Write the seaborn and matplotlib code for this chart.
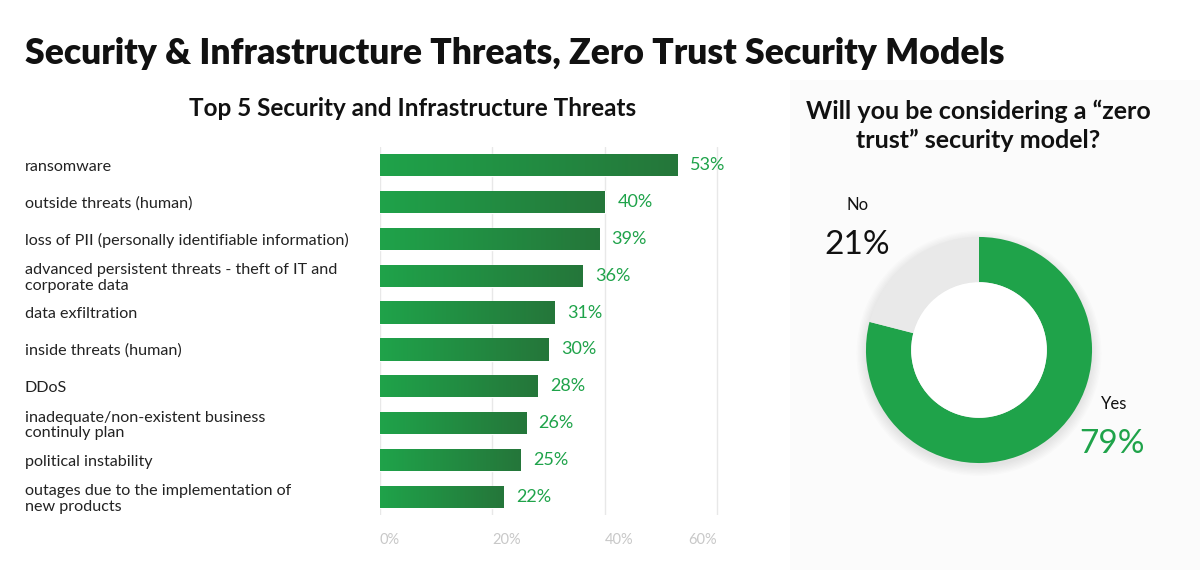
import matplotlib
matplotlib.use('Agg')
import matplotlib.pyplot as plt
import numpy as np
import pandas as pd
import seaborn as sns
from matplotlib.colors import LinearSegmentedColormap
from matplotlib.patches import Rectangle, Circle

# data
threats = ['ransomware',
           'outside threats (human)',
           'loss of PII (personally identifiable information)',
           'advanced persistent threats - theft of IT and\ncorporate data',
           'data exfiltration',
           'inside threats (human)',
           'DDoS',
           'inadequate/non-existent business\ncontinuly plan',
           'political instability',
           'outages due to the implementation of\nnew products']
shares = [53, 40, 39, 36, 31, 30, 28, 26, 25, 22]
axis_ticks = [0, 20, 40, 60]
zt_labels = ['Yes', 'No']
zt_values = [79, 21]

GREEN = '#1fa34a'
DARK_GREEN = '#25763a'
W, H = 1200, 570

sns.set_theme(style='white')
plt.rcParams['font.family'] = ['Lato', 'DejaVu Sans']

fig = plt.figure(figsize=(12, 5.7), dpi=100)
fig.patch.set_facecolor('white')

# light panel behind the donut
fig.patches.append(Rectangle((790 / W, 0), 410 / W, 1 - 80 / H, transform=fig.transFigure,
                             facecolor='#fbfbfb', edgecolor='none', zorder=-5))

fig.text(25 / W, 1 - 53 / H, 'Security & Infrastructure Threats, Zero Trust Security Models',
         fontsize=25.6, fontweight='heavy', ha='left', va='center', color='#111111')
fig.text(413 / W, 1 - 108 / H, 'Top 5 Security and Infrastructure Threats',
         fontsize=17.5, fontweight='bold', ha='center', va='center', color='#111111')

# ---- bar chart ----
ax = fig.add_axes([380 / W, 1 - 515.4 / H, 390 / W, (515.4 - 146.6) / H])
df = pd.DataFrame({'threat': threats, 'share': shares})
sns.barplot(data=df, x='share', y='threat', ax=ax, color=GREEN, width=0.6, saturation=1)

cmap = LinearSegmentedColormap.from_list('bar', [GREEN, DARK_GREEN])
grad = np.linspace(0, 1, 256).reshape(1, -1)
for patch in ax.patches:
    x0, y0 = patch.get_xy()
    w, h = patch.get_width(), patch.get_height()
    im = ax.imshow(grad, extent=[x0, x0 + w, y0 + h, y0], cmap=cmap, aspect='auto',
                   zorder=patch.get_zorder() + 0.1, interpolation='bicubic')
    im.set_clip_path(patch)

ax.bar_label(ax.containers[0], labels=[f'{v}%' for v in shares], padding=9,
             color=GREEN, fontsize=13)

ax.set_xlim(0, 69.4)
ax.set_ylim(9.5, -0.5)
ax.set_xticks(axis_ticks)
ax.set_xticklabels([f'{t}%' for t in axis_ticks], color='#c8c8c8', fontsize=10.5)
for i, t in enumerate(ax.get_xticklabels()):
    t.set_ha('left' if i < len(axis_ticks) - 1 else 'right')
ax.tick_params(axis='x', length=0, pad=13)
ax.tick_params(axis='y', length=0, pad=255.6)
for t in ax.get_yticklabels():
    t.set_ha('left')
    t.set_fontsize(11.6)
    t.set_color('#222222')
    t.set_linespacing(1.15)
ax.grid(axis='x', color='#e8e8e8', linewidth=1)
ax.set_axisbelow(True)
ax.set_xlabel('')
ax.set_ylabel('')
ax.set_facecolor('none')
sns.despine(ax=ax, left=True, bottom=True)

# ---- donut ----
fig.text(978 / W, 1 - 126 / H, 'Will you be considering a \u201czero\ntrust\u201d security model?',
         fontsize=18, fontweight='bold', ha='center', va='center', color='#111111',
         linespacing=1.3)

ax2 = fig.add_axes([(979 - 150) / W, 1 - (350 + 150) / H, 300 / W, 300 / H])
ax2.set_zorder(2)
for k in range(8):
    ax2.add_patch(Circle((0, -0.03), 1.0 + 0.012 * k, color='#000000', alpha=0.012, lw=0, zorder=0))
ax2.pie(zt_values, colors=[GREEN, '#e9e9e9'], startangle=90, counterclock=False,
        wedgeprops=dict(width=0.4, edgecolor='none'))
ax2.add_patch(Circle((0, 0), 0.6, color='white', lw=0, zorder=5))
ax2.set_xlim(-1.327, 1.327)
ax2.set_ylim(-1.327, 1.327)
ax2.axis('off')

fig.text(858 / W, 1 - 205 / H, zt_labels[1], fontsize=12, ha='center', va='center', color='#111111')
fig.text(857 / W, 1 - 245 / H, f'{zt_values[1]}%', fontsize=24, ha='center', va='center', color='#111111')
fig.text(1114 / W, 1 - 404 / H, zt_labels[0], fontsize=12, ha='center', va='center', color='#111111')
fig.text(1112 / W, 1 - 444 / H, f'{zt_values[0]}%', fontsize=24, ha='center', va='center', color=GREEN)

fig.savefig('out.png', dpi=100, facecolor='white')
